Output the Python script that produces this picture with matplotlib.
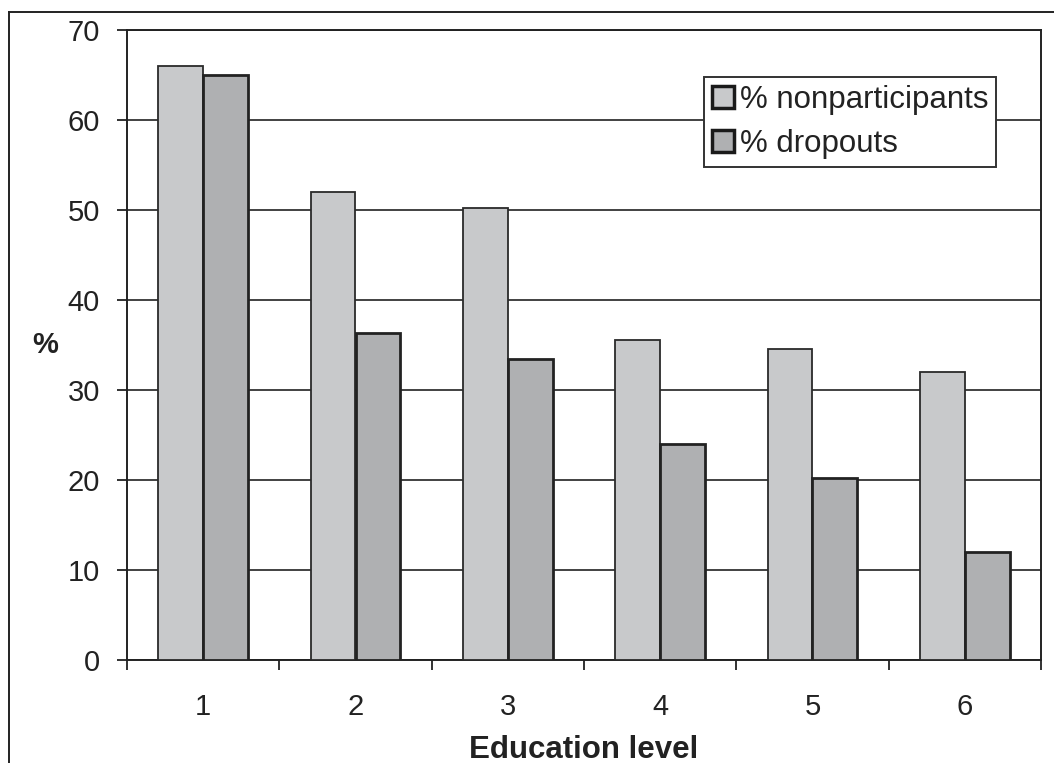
import matplotlib
matplotlib.use("Agg")
import matplotlib.pyplot as plt
import numpy as np
from matplotlib.lines import Line2D

categories = ["1", "2", "3", "4", "5", "6"]
nonparticipants = [66.0, 52.0, 50.2, 35.6, 34.6, 32.0]
dropouts = [65.0, 36.3, 33.4, 24.0, 20.2, 12.0]
series_labels = ["% nonparticipants", "% dropouts"]
yticks = [0, 10, 20, 30, 40, 50, 60, 70]

plt.rcParams['font.family'] = ['Liberation Sans', 'DejaVu Sans']

W, H = 1054, 763
fig = plt.figure(figsize=(W / 100, H / 100), dpi=100)
ax = fig.add_axes([127 / W, 1 - 660 / H, (1041 - 127) / W, (660 - 30) / H])

x = np.arange(1, len(categories) + 1)
bw = 0.295
b1 = ax.bar(x - bw / 2, nonparticipants, bw, color='#c8c9cb', edgecolor='#2a2a2a',
            linewidth=1.3, zorder=3, label=series_labels[0])
b2 = ax.bar(x + bw / 2, dropouts, bw, color='#afb0b2', edgecolor='#222222',
            linewidth=2.0, zorder=3, label=series_labels[1])

ax.set_xlim(0.5, len(categories) + 0.5)
ax.set_ylim(0, 70)
ax.set_yticks(yticks)
ax.set_yticklabels([str(v) for v in yticks])
ax.set_xticks(x)
ax.set_xticklabels(categories)
ax.set_xticks(np.arange(0.5, len(categories) + 1, 1.0), minor=True)

ax.tick_params(axis='x', which='major', length=0, pad=24, labelsize=21, colors='#222222')
ax.tick_params(axis='x', which='minor', length=7.5, width=1.3, direction='out', color='#222222')
ax.tick_params(axis='y', which='major', length=7.5, width=1.3, direction='out', pad=12,
               labelsize=21, colors='#222222')

ax.yaxis.grid(True, color='#333333', linewidth=1.3, zorder=0)
ax.set_axisbelow(True)
for s in ax.spines.values():
    s.set_color('#222222')
    s.set_linewidth(1.4)

fig.text(584 / W, 1 - 758 / H, "Education level", ha='center', va='baseline',
         fontsize=22.5, fontweight='bold', color='#222222')
fig.text(45 / W, 1 - 345 / H, "%", ha='center', va='center',
         fontsize=21, fontweight='bold', color='#222222')

leg = ax.legend(loc='upper left', bbox_to_anchor=(704 / W, 1 - 77 / H),
                bbox_transform=fig.transFigure, fontsize=22.5, frameon=True,
                fancybox=False, framealpha=1, borderaxespad=0, borderpad=0.25,
                handlelength=0.7, handleheight=0.7, handletextpad=0.2,
                labelspacing=0.45)
leg.get_frame().set_edgecolor('#333333')
leg.get_frame().set_linewidth(1.4)
for t in leg.get_texts():
    t.set_color('#222222')
for h in leg.legend_handles:
    h.set_linewidth(2.5)
    h.set_edgecolor('#1a1a1a')

# outer frame
fig.add_artist(Line2D([9 / W, 9 / W], [0, 1 - 12 / H], transform=fig.transFigure,
                      color='#222222', linewidth=1.4))
fig.add_artist(Line2D([9 / W, 1], [1 - 12 / H, 1 - 12 / H], transform=fig.transFigure,
                      color='#222222', linewidth=1.4))

fig.savefig("out.png", dpi=100, facecolor='white')
